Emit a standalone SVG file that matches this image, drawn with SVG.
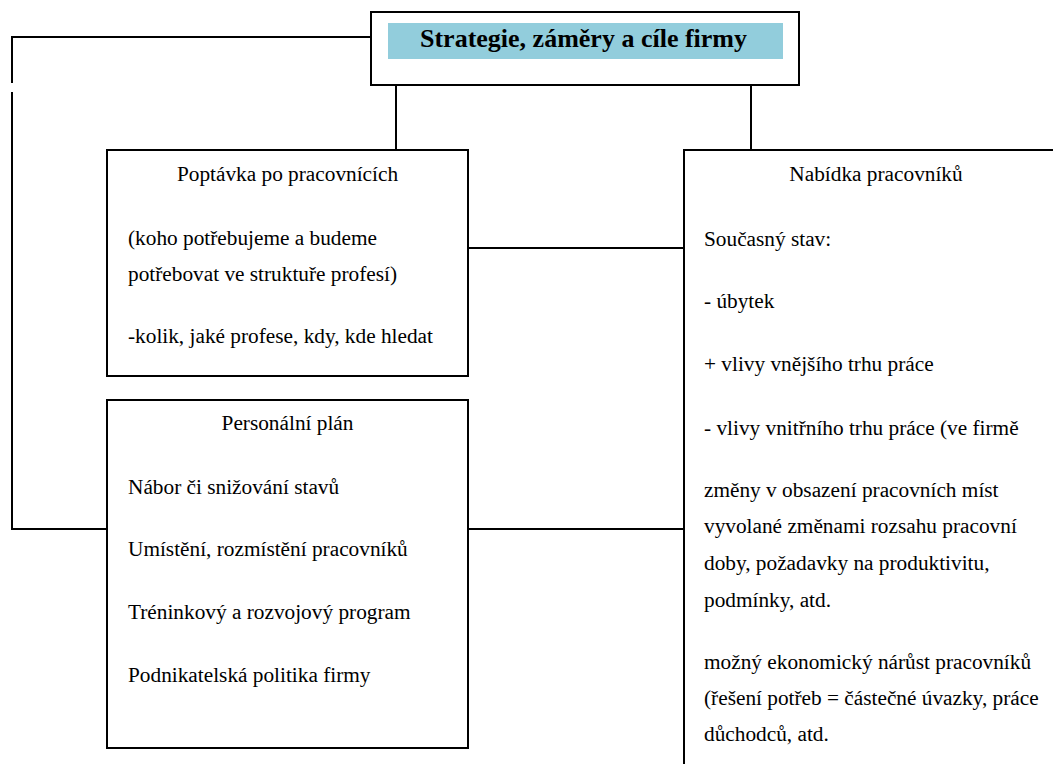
<svg xmlns="http://www.w3.org/2000/svg" width="1053" height="764" viewBox="0 0 1053 764">
<style>
.box{fill:#fff;stroke:#000;stroke-width:2}
.ln{fill:none;stroke:#000;stroke-width:2}
text{font-family:'Liberation Serif','DejaVu Serif',serif;fill:#000}
.t{font-size:21.3px}
.c{text-anchor:middle}
.title{font-size:26px;font-weight:bold}
</style>
<rect width="1053" height="764" fill="#fff"/>
<g id="connectors">
<path class="ln" d="M371 37H12V83M12 92V529H107"/>
<path class="ln" d="M396 85V150M751 85V150"/>
<path class="ln" d="M468 248H684M468 529H684"/>
</g>
<g id="strategie">
<rect class="box" x="371" y="12" width="428" height="73"/>
<rect x="388" y="23" width="395" height="36" fill="#92CDDC"/>
<text class="title" x="420" y="47" font-family="Liberation Serif, serif">Strategie, záměry a cíle firmy</text>
</g>
<g id="poptavka">
<rect class="box" x="107" y="150" width="361" height="226"/>
<text class="t c" x="287.5" y="181">Poptávka po pracovnících</text>
<text class="t" x="128" y="245">(koho potřebujeme a budeme</text>
<text class="t" x="128" y="281">potřebovat ve struktuře profesí)</text>
<text class="t" x="128" y="343">-kolik, jaké profese, kdy, kde hledat</text>
</g>
<g id="personalni-plan">
<rect class="box" x="107" y="400" width="361" height="348"/>
<text class="t c" x="287.5" y="430">Personální plán</text>
<text class="t" x="128" y="494">Nábor či snižování stavů</text>
<text class="t" x="128" y="556">Umístění, rozmístění pracovníků</text>
<text class="t" x="128" y="619">Tréninkový a rozvojový program</text>
<text class="t" x="128" y="682">Podnikatelská politika firmy</text>
</g>
<g id="nabidka">
<rect class="box" x="684" y="150" width="420" height="700"/>
<text class="t c" x="876" y="181">Nabídka pracovníků</text>
<text class="t" x="704" y="246">Současný stav:</text>
<text class="t" x="704" y="308">- úbytek</text>
<text class="t" x="704" y="371">+ vlivy vnějšího trhu práce</text>
<text class="t" x="704" y="435">- vlivy vnitřního trhu práce (ve firmě</text>
<text class="t" x="704" y="497">změny v obsazení pracovních míst</text>
<text class="t" x="704" y="533">vyvolané změnami rozsahu pracovní</text>
<text class="t" x="704" y="570">doby, požadavky na produktivitu,</text>
<text class="t" x="704" y="607">podmínky, atd.</text>
<text class="t" x="704" y="669">možný ekonomický nárůst pracovníků</text>
<text class="t" x="704" y="705">(řešení potřeb = částečné úvazky, práce</text>
<text class="t" x="704" y="741">důchodců, atd.</text>
</g>
</svg>
